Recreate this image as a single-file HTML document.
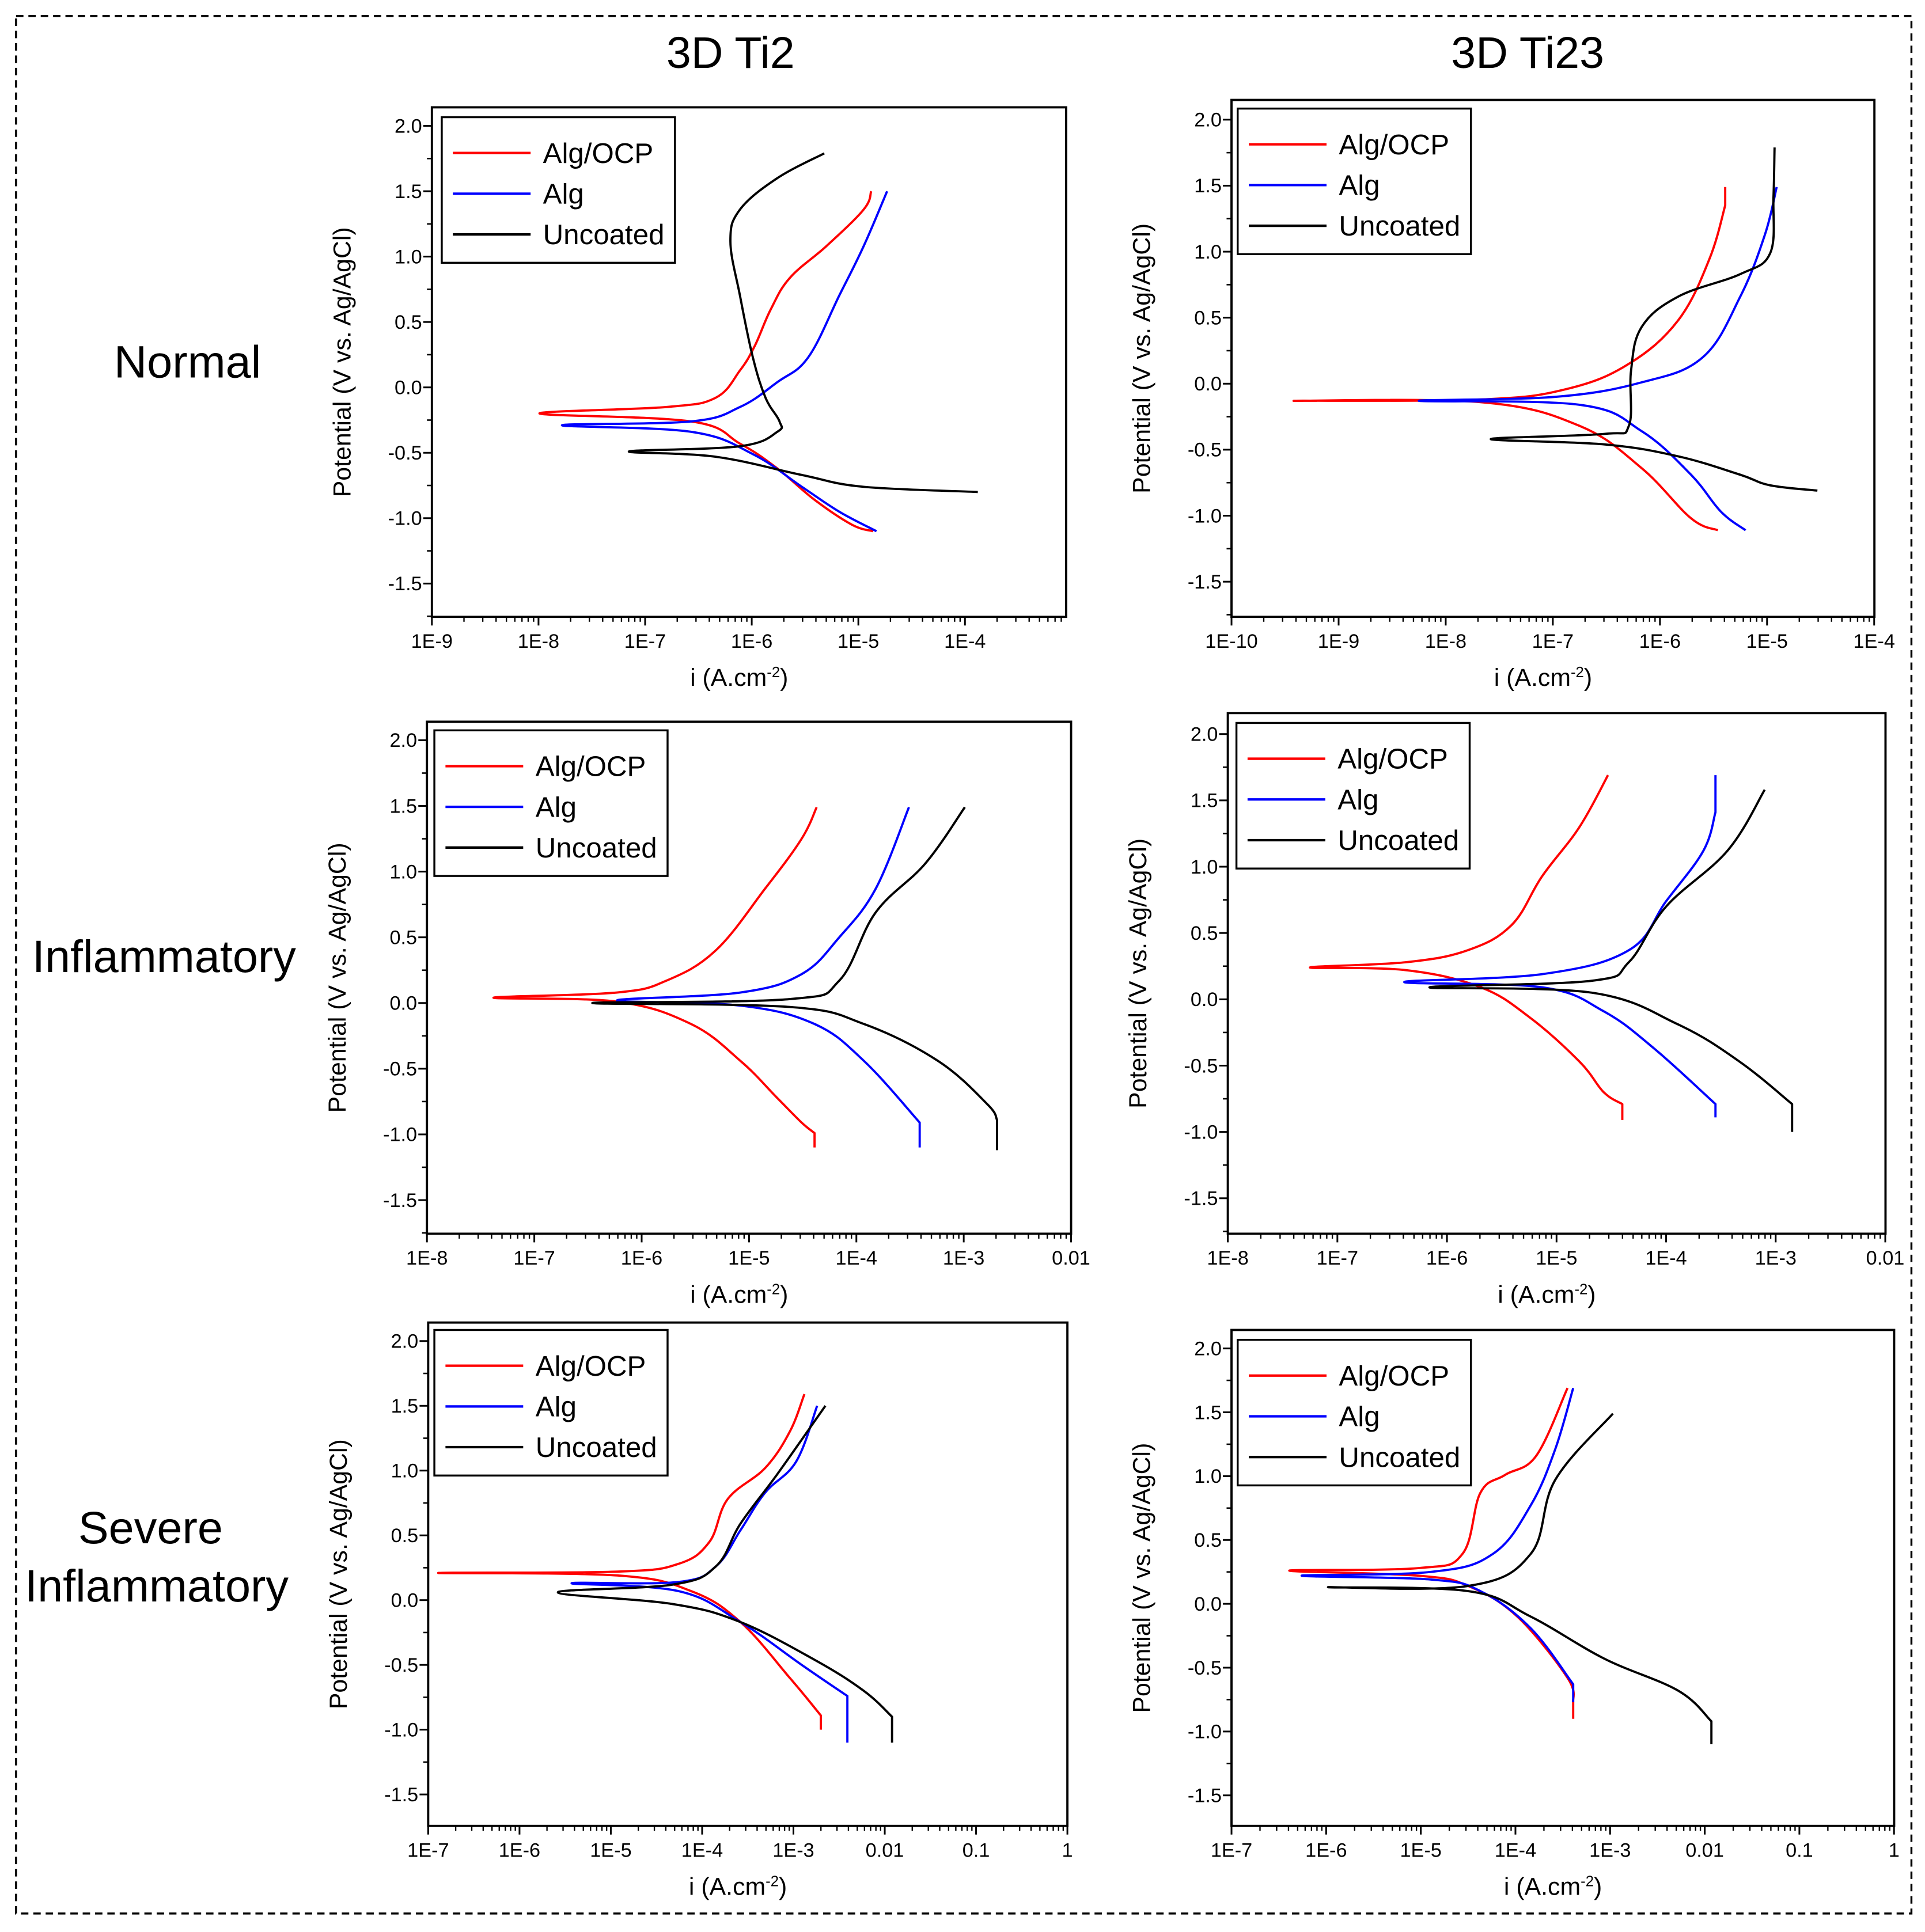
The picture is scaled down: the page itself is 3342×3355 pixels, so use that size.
<!DOCTYPE html>
<html><head><meta charset="utf-8"><style>
html,body{margin:0;padding:0;background:#fff;}
svg{display:block;font-family:"Liberation Sans",Arial,sans-serif;}
</style></head><body>
<svg id="fig" width="3342" height="3355" viewBox="0 0 1560 1566" preserveAspectRatio="none" xmlns="http://www.w3.org/2000/svg">
<rect x="13" y="13" width="1536" height="1538" fill="none" stroke="#000" stroke-width="1.6" stroke-dasharray="6,4"/>
<text x="592" y="55" font-size="36" text-anchor="middle">3D Ti2</text>
<text x="1238" y="55" font-size="36" text-anchor="middle">3D Ti23</text>
<text x="152" y="306" font-size="37" text-anchor="middle">Normal</text>
<text x="133" y="788" font-size="37" text-anchor="middle">Inflammatory</text>
<text x="122" y="1251" font-size="37" text-anchor="middle">Severe</text>
<text x="127" y="1298" font-size="37" text-anchor="middle">Inflammatory</text>
</svg>
<script>
// ---- data: log10(current density) and potential (V) per series ----
const p1AlgOcpLogI=[-4.86,-5.06,-5.41,-5.76,-6.11,-6.57,-7.99,-6.80,-6.34,-6.11,-5.97,-5.82,-5.64,-5.30,-4.95,-4.88];
const p1AlgOcpE=[-1.10,-1.05,-0.86,-0.62,-0.43,-0.26,-0.20,-0.15,-0.08,0.13,0.32,0.60,0.84,1.08,1.36,1.50];
const p1AlgLogI=[-4.83,-5.18,-5.53,-5.99,-6.57,-7.78,-6.57,-6.11,-5.76,-5.47,-5.18,-4.95,-4.73];
const p1AlgE=[-1.10,-0.95,-0.76,-0.51,-0.34,-0.29,-0.26,-0.15,0.04,0.23,0.70,1.08,1.50];
const p1UncLogI=[-3.88,-4.95,-5.53,-6.34,-7.15,-6.11,-5.76,-5.74,-5.87,-5.99,-6.11,-6.20,-6.11,-5.76,-5.32];
const p1UncE=[-0.80,-0.76,-0.67,-0.53,-0.49,-0.45,-0.34,-0.26,-0.08,0.23,0.70,1.12,1.36,1.60,1.79];

const p2AlgOcpLogI=[-5.46,-5.71,-6.17,-6.75,-7.67,-9.42,-7.67,-6.87,-6.29,-5.83,-5.54,-5.39,-5.39];
const p2AlgOcpE=[-1.11,-1.02,-0.64,-0.32,-0.14,-0.13,-0.12,-0.04,0.15,0.48,0.94,1.35,1.49];
const p2AlgLogI=[-5.20,-5.43,-5.71,-6.17,-6.75,-8.25,-6.98,-6.17,-5.60,-5.25,-5.02,-4.91];
const p2AlgE=[-1.11,-0.97,-0.69,-0.36,-0.16,-0.13,-0.10,0.01,0.20,0.66,1.13,1.49];
const p2UncLogI=[-4.53,-4.97,-5.25,-5.83,-6.52,-7.58,-6.52,-6.29,-6.27,-6.17,-5.83,-5.25,-4.97,-4.94,-4.93];
const p2UncE=[-0.81,-0.77,-0.69,-0.55,-0.46,-0.42,-0.38,-0.32,0.10,0.43,0.66,0.83,0.99,1.41,1.79];

const p3AlgOcpLogI=[-4.39,-4.39,-4.51,-4.74,-5.08,-5.54,-6.23,-7.38,-6.23,-5.77,-5.31,-4.85,-4.51,-4.37];
const p3AlgOcpE=[-1.10,-0.99,-0.91,-0.72,-0.44,-0.16,0.01,0.04,0.08,0.17,0.40,0.87,1.25,1.49];
const p3AlgLogI=[-3.41,-3.41,-3.93,-4.39,-5.08,-6.23,-5.08,-4.51,-4.16,-3.82,-3.51];
const p3AlgE=[-1.10,-0.91,-0.44,-0.16,-0.02,0.02,0.08,0.22,0.50,0.87,1.49];
const p3UncLogI=[-2.69,-2.69,-2.78,-3.24,-3.93,-4.62,-6.46,-4.62,-4.16,-3.82,-3.36,-2.99];
const p3UncE=[-1.12,-0.89,-0.77,-0.44,-0.16,-0.03,0.00,0.03,0.17,0.69,1.06,1.49];

const p4AlgOcpLogI=[-4.40,-4.40,-4.57,-4.79,-5.24,-5.69,-6.37,-7.25,-6.37,-5.81,-5.41,-5.13,-4.79,-4.53];
const p4AlgOcpE=[-0.91,-0.79,-0.70,-0.47,-0.14,0.09,0.22,0.24,0.28,0.37,0.56,0.93,1.30,1.69];
const p4AlgLogI=[-3.55,-3.55,-4.11,-4.57,-5.13,-6.39,-5.13,-4.34,-4.00,-3.66,-3.55,-3.55];
const p4AlgE=[-0.89,-0.79,-0.37,-0.09,0.09,0.13,0.19,0.37,0.74,1.12,1.41,1.69];
const p4UncLogI=[-2.85,-2.85,-3.33,-3.89,-4.68,-6.16,-4.68,-4.34,-4.00,-3.44,-3.10];
const p4UncE=[-1.00,-0.79,-0.47,-0.19,0.05,0.09,0.14,0.28,0.70,1.12,1.58];

const p5AlgOcpLogI=[-2.70,-2.70,-3.04,-3.58,-4.12,-4.93,-6.89,-4.93,-4.26,-3.92,-3.72,-3.31,-3.04,-2.88];
const p5AlgOcpE=[-1.00,-0.89,-0.60,-0.17,0.07,0.19,0.21,0.22,0.28,0.45,0.78,1.02,1.30,1.59];
const p5AlgLogI=[-2.41,-2.41,-2.91,-3.58,-4.26,-5.43,-4.26,-3.85,-3.58,-3.31,-2.97,-2.74];
const p5AlgE=[-1.10,-0.74,-0.50,-0.17,0.07,0.13,0.14,0.26,0.54,0.83,1.07,1.50];
const p5UncLogI=[-1.92,-1.92,-2.23,-2.77,-3.58,-4.32,-5.58,-4.32,-3.85,-3.58,-3.18,-2.65];
const p5UncE=[-1.10,-0.90,-0.70,-0.46,-0.17,-0.03,0.06,0.12,0.26,0.59,0.97,1.50];

const p6AlgOcpLogI=[-3.39,-3.39,-3.45,-3.98,-4.50,-5.02,-6.39,-5.02,-4.56,-4.37,-4.11,-3.78,-3.45];
const p6AlgOcpE=[-0.90,-0.77,-0.58,-0.10,0.14,0.22,0.26,0.28,0.39,0.87,1.01,1.16,1.69];
const p6AlgLogI=[-3.39,-3.39,-3.84,-4.37,-4.89,-6.26,-4.89,-4.24,-3.84,-3.58,-3.39];
const p6AlgE=[-0.77,-0.63,-0.19,0.10,0.19,0.22,0.25,0.39,0.77,1.21,1.69];
const p6UncLogI=[-1.93,-1.93,-2.28,-3.06,-3.84,-4.50,-5.98,-4.50,-3.84,-3.58,-2.97];
const p6UncE=[-1.10,-0.92,-0.68,-0.43,-0.10,0.10,0.13,0.14,0.39,0.97,1.49];

const yTicks=[-1.5,-1.0,-0.5,0.0,0.5,1.0,1.5,2.0];
const seriesNames=["Alg/OCP","Alg","Uncoated"];
const seriesColors=["#ff0000","#0000ff","#000000"];

const panels=[
 {id:"ti2-normal",L:350,R:864,T:87,B:500,xmin:-9,dec:86.4,y0:314,pv:106,lab:[-9,-4],series:[[p1AlgOcpLogI,p1AlgOcpE],[p1AlgLogI,p1AlgE],[p1UncLogI,p1UncE]],leg:[358,95]},
 {id:"ti23-normal",L:998,R:1519,T:81,B:500,xmin:-10,dec:86.8,y0:311,pv:107,lab:[-10,-4],series:[[p2AlgOcpLogI,p2AlgOcpE],[p2AlgLogI,p2AlgE],[p2UncLogI,p2UncE]],leg:[1003,88]},
 {id:"ti2-inflammatory",L:346,R:868,T:585,B:1000,xmin:-8,dec:87,y0:813,pv:106.5,lab:[-8,-2],series:[[p3AlgOcpLogI,p3AlgOcpE],[p3AlgLogI,p3AlgE],[p3UncLogI,p3UncE]],leg:[352,592]},
 {id:"ti23-inflammatory",L:995,R:1528,T:578,B:1000,xmin:-8,dec:88.8,y0:810,pv:107.5,lab:[-8,-2],series:[[p4AlgOcpLogI,p4AlgOcpE],[p4AlgLogI,p4AlgE],[p4UncLogI,p4UncE]],leg:[1002,586]},
 {id:"ti2-severe",L:347,R:865,T:1072,B:1480,xmin:-7,dec:74,y0:1297,pv:105,lab:[-7,0],series:[[p5AlgOcpLogI,p5AlgOcpE],[p5AlgLogI,p5AlgE],[p5UncLogI,p5UncE]],leg:[352,1078]},
 {id:"ti23-severe",L:998,R:1535,T:1078,B:1480,xmin:-7,dec:76.7,y0:1300,pv:103.5,lab:[-7,0],series:[[p6AlgOcpLogI,p6AlgOcpE],[p6AlgLogI,p6AlgE],[p6UncLogI,p6UncE]],leg:[1003,1086]}
];
const NS="http://www.w3.org/2000/svg";
const svg=document.getElementById("fig");
function mk(tag,attrs,parent){const e=document.createElementNS(NS,tag);for(const k in attrs)e.setAttribute(k,attrs[k]);(parent||svg).appendChild(e);return e;}
function fmt(p){if(p<=-3)return "1E"+p;if(p==-2)return "0.01";if(p==-1)return "0.1";return "1";}
function smooth(pts){
 let d="M"+pts[0][0].toFixed(1)+","+pts[0][1].toFixed(1);
 const t=0.18;
 const vert=(a,b)=>Math.abs(a[0]-b[0])<0.5;
 for(let i=0;i<pts.length-1;i++){
  const p0=pts[Math.max(0,i-1)],p1=pts[i],p2=pts[i+1],p3=pts[Math.min(pts.length-1,i+2)];
  if(vert(p1,p2)){d+=" L"+p2[0].toFixed(1)+","+p2[1].toFixed(1);continue;}
  let c1,c2;
  if(vert(p0,p1)) c1=[p1[0]+(p2[0]-p1[0])*t,p1[1]+(p2[1]-p1[1])*t];
  else c1=[p1[0]+(p2[0]-p0[0])*t,p1[1]+(p2[1]-p0[1])*t];
  if(vert(p2,p3)) c2=[p2[0]-(p2[0]-p1[0])*t,p2[1]-(p2[1]-p1[1])*t];
  else c2=[p2[0]-(p3[0]-p1[0])*t,p2[1]-(p3[1]-p1[1])*t];
  d+=" C"+c1[0].toFixed(1)+","+c1[1].toFixed(1)+" "+c2[0].toFixed(1)+","+c2[1].toFixed(1)+" "+p2[0].toFixed(1)+","+p2[1].toFixed(1);
 }
 return d;
}
panels.forEach(P=>{
 const g=mk("g",{});
 
 
 const X=l=>P.L+(l-P.xmin)*P.dec;
 const Y=e=>P.y0-e*P.pv;
 P.series.forEach((s,i)=>{
  const pts=s[0].map((l,k)=>[X(l),Y(s[1][k])]);
  const pl=mk("path",{d:smooth(pts),fill:"none",stroke:seriesColors[i],"stroke-width":1.8,"stroke-linejoin":"round"},g);
  
  
 });
 const fr=mk("rect",{x:P.L,y:P.T,width:P.R-P.L,height:P.B-P.T,fill:"none",stroke:"#000","stroke-width":1.8},g);
 
 
 yTicks.forEach(v=>{
  const y=Y(v);
  mk("line",{x1:P.L-7,x2:P.L,y1:y,y2:y,stroke:"#000","stroke-width":1.4},g);
  const t=mk("text",{x:P.L-8,y:y+5.5,"font-size":16,"text-anchor":"end"},g);
  t.textContent=v.toFixed(1);
  
  
  const ym=Y(v+0.25);
  if(ym>P.T) mk("line",{x1:P.L-4,x2:P.L,y1:ym,y2:ym,stroke:"#000","stroke-width":1.2},g);
 });
 const ymm=Y(-1.75); if(ymm<P.B) mk("line",{x1:P.L-4,x2:P.L,y1:ymm,y2:ymm,stroke:"#000","stroke-width":1.2},g);
 for(let p=P.xmin;p<=P.lab[1]+1;p++){
  const x=X(p);
  if(x<=P.R+0.5){
   mk("line",{x1:x,x2:x,y1:P.B,y2:P.B+7,stroke:"#000","stroke-width":1.4},g);
   if(p<=P.lab[1]){
    const t=mk("text",{x:x,y:P.B+25,"font-size":16,"text-anchor":"middle"},g);
    t.textContent=fmt(p);
    
    
   }
  }
  for(let m=2;m<=9;m++){const xm=X(p+Math.log10(m));if(xm<P.R)mk("line",{x1:xm,x2:xm,y1:P.B,y2:P.B+4,stroke:"#000","stroke-width":1.1},g);}
 }
 const cy=(P.T+P.B)/2, cx=(P.L+P.R)/2;
 const yt=mk("text",{x:0,y:0,"font-size":20,"text-anchor":"middle",transform:`translate(${P.L-66},${cy}) rotate(-90)`},g);
 yt.textContent="Potential (V vs. Ag/AgCl)";
 
 
 const xt=mk("text",{x:cx-8,y:P.B+56,"font-size":20,"text-anchor":"middle"},g);
 xt.innerHTML='i (A.cm<tspan dy="-7" font-size="12">-2</tspan><tspan dy="7">)</tspan>';
 
 
 const lg=mk("g",{},g);
 
 
 const [lx,ly]=P.leg;
 mk("rect",{x:lx,y:ly,width:189,height:118,fill:"#fff",stroke:"#000","stroke-width":1.6},lg);
 seriesNames.forEach((n,i)=>{
  const yy=ly+29+i*33;
  mk("line",{x1:lx+9,x2:lx+72,y1:yy,y2:yy,stroke:seriesColors[i],"stroke-width":2},lg);
  const t=mk("text",{x:lx+82,y:yy+8,"font-size":23},lg);
  t.textContent=n;
  
  
 });
});
</script>
</body></html>
